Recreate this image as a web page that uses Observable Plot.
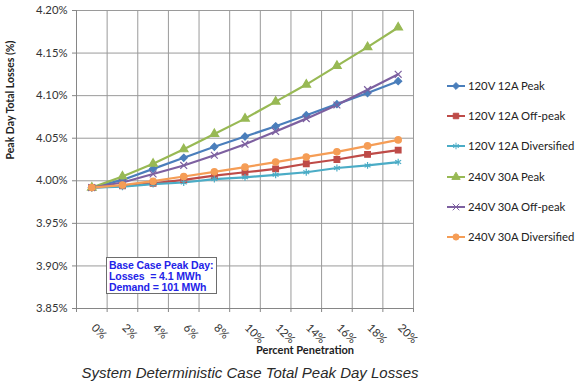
<!DOCTYPE html>
<html><head><meta charset="utf-8">
<script src="https://cdn.jsdelivr.net/npm/d3@7"></script>
<script src="https://cdn.jsdelivr.net/npm/@observablehq/plot@0.6"></script>
<style>
body{margin:0;background:#fff;}
#wrap{position:relative;width:575px;height:386px;overflow:hidden;font-family:Lato,"Open Sans",sans-serif;}
#note{position:absolute;left:106px;top:257px;width:111px;height:37px;border:1px solid #6d6d6d;background:#fff;color:#2323e8;font-weight:bold;font-size:10.5px;line-height:11px;padding:2px 0 0 2px;box-sizing:border-box;white-space:pre;font-family:"Liberation Sans",Arial,sans-serif;letter-spacing:-0.1px;}
#legend{position:absolute;left:446px;top:80px;}
.li{height:30.2px;display:flex;align-items:flex-start;font-size:11.3px;color:#222;line-height:12px;}
.li svg{margin-right:2px;}
#title{position:absolute;left:0;width:500px;top:364px;text-align:center;font-family:"Liberation Sans",Arial,sans-serif;font-style:italic;font-size:15px;color:#2a2a2a;}
</style></head>
<body><div id="wrap"></div>
<script>
const categories = ["0%","2%","4%","6%","8%","10%","12%","14%","16%","18%","20%"];
const seriesNames = ["120V 12A Peak","120V 12A Off-peak","120V 12A Diversified","240V 30A Peak","240V 30A Off-peak","240V 30A Diversified"];
const v120Peak      = [3.992,4.001,4.014,4.027,4.040,4.052,4.064,4.077,4.090,4.103,4.117];
const v120OffPeak   = [3.992,3.994,3.997,4.001,4.006,4.010,4.014,4.020,4.025,4.031,4.036];
const v120Divers    = [3.992,3.993,3.996,3.998,4.002,4.004,4.007,4.010,4.015,4.018,4.022];
const v240Peak      = [3.992,4.005,4.020,4.037,4.055,4.073,4.093,4.113,4.135,4.157,4.180];
const v240OffPeak   = [3.992,3.998,4.008,4.018,4.030,4.043,4.058,4.073,4.089,4.107,4.125];
const v240Divers    = [3.992,3.995,3.9995,4.005,4.0105,4.016,4.022,4.028,4.034,4.041,4.048];
const yTicks = [3.85,3.90,3.95,4.00,4.05,4.10,4.15,4.20];
const colors = ["#4a7ebb","#be4b48","#4bacc6","#98b954","#7d60a0","#f59d56"];
const symbols = ["diamond2","square","asterisk","triangle","times","circle"];
const noteLines = ["Base Case Peak Day:","Losses  = 4.1 MWh","Demand = 101 MWh"];
const xLabel = "Percent Penetration";
const yLabel = "Peak Day Total Losses (%)";
const titleText = "System Deterministic Case Total Peak Day Losses";

const allSeries = [v120Peak,v120OffPeak,v120Divers,v240Peak,v240OffPeak,v240Divers];
const data = allSeries.flatMap((vals,s)=>vals.map((v,i)=>({i, v, series: seriesNames[s]})));
const boundaries = categories.map((c,i)=>i-0.5).concat([categories.length-0.5]);

const W=575,H=362,mL=76,mR=162,mT=10,mB=54;
const chart = Plot.plot({
  width:W,height:H,marginLeft:mL,marginRight:mR,marginTop:mT,marginBottom:mB,
  style:{fontFamily:"Lato, 'Open Sans', sans-serif",fontSize:"11px",color:"#333",background:"#fff"},
  x:{type:"linear",domain:[-0.5,categories.length-0.5],axis:null,label:null},
  y:{domain:[yTicks[0],yTicks[yTicks.length-1]],axis:null,label:null},
  color:{domain:seriesNames,range:colors},
  symbol:{domain:seriesNames,range:symbols},
  marks:[
    Plot.gridY(yTicks,{stroke:"#9a9a9a",strokeOpacity:1,strokeWidth:1}),
    Plot.ruleX(boundaries.slice(1),{stroke:"#9a9a9a",strokeWidth:1}),
    Plot.axisY(yTicks,{label:null,tickSize:4,tickPadding:5,stroke:"#868686",tickFormat:d=>d.toFixed(2)+"%",fontSize:11.3,fill:"#333"}),
    Plot.axisX(boundaries,{label:null,tickSize:4,tickFormat:()=>"",stroke:"#868686"}),
    Plot.ruleX([-0.5],{stroke:"#868686"}),
    Plot.ruleY([yTicks[0]],{stroke:"#868686"}),
    Plot.text(categories,{x:(d,i)=>i,frameAnchor:"bottom",rotate:45,textAnchor:"start",dy:20,dx:-1,fontSize:11.3,fill:"#333"}),
    Plot.text([xLabel],{frameAnchor:"bottom",dx:60,dy:45,fontWeight:"bold",fontSize:11,fill:"#222"}),
    Plot.text([yLabel],{frameAnchor:"left",rotate:-90,dx:-66,fontWeight:"bold",fontSize:10.5,fill:"#222"}),
    Plot.line(data,{x:"i",y:"v",z:"series",stroke:"series",strokeWidth:2.2}),
    Plot.dot(data,{x:"i",y:"v",symbol:"series",fill:"series",stroke:"series",r:3.2,strokeWidth:1.2})
  ]
});
const wrap=document.getElementById("wrap");
wrap.appendChild(chart);

const note=document.createElement("div");note.id="note";note.textContent=noteLines.join("\n");wrap.appendChild(note);

const legend=document.createElement("div");legend.id="legend";
seriesNames.forEach((n,k)=>{
  const item=document.createElement("div");item.className="li";
  const svg=d3.create("svg").attr("width",20).attr("height",12);
  svg.append("line").attr("x1",1).attr("x2",19).attr("y1",6).attr("y2",6).attr("stroke",colors[k]).attr("stroke-width",2);
  const symMap={diamond2:d3.symbolDiamond2,square:d3.symbolSquare,asterisk:d3.symbolAsterisk,triangle:d3.symbolTriangle,times:d3.symbolTimes,circle:d3.symbolCircle};
  svg.append("path").attr("transform","translate(10,6)").attr("d",d3.symbol(symMap[symbols[k]],30)()).attr("fill",colors[k]).attr("stroke",colors[k]).attr("stroke-width",1);
  item.appendChild(svg.node());
  const t=document.createElement("span");t.textContent=n;item.appendChild(t);
  legend.appendChild(item);
});
wrap.appendChild(legend);

const title=document.createElement("div");title.id="title";title.textContent=titleText;wrap.appendChild(title);
</script></body></html>
